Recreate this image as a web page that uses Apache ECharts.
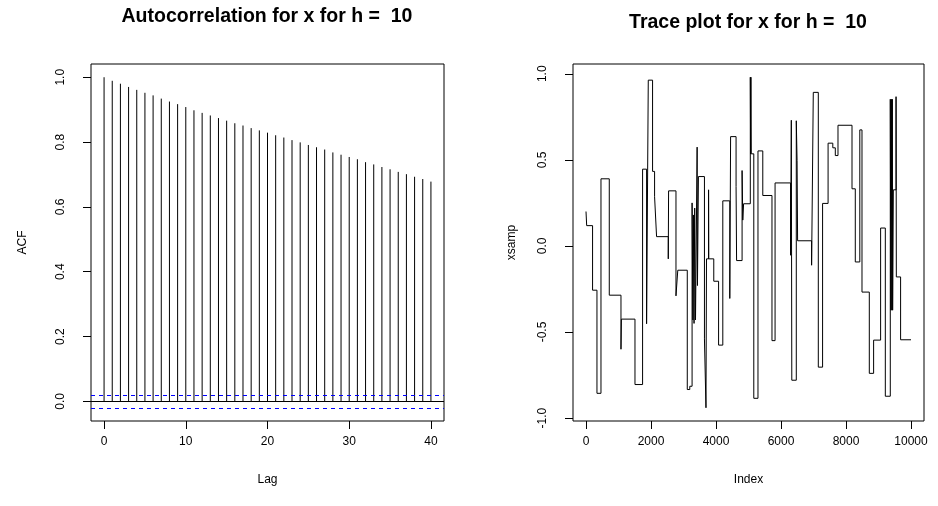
<!DOCTYPE html>
<html>
<head>
<meta charset="utf-8">
<script src="https://cdn.jsdelivr.net/npm/echarts@6/dist/echarts.min.js"></script>
<style>
  html, body { margin: 0; padding: 0; background: #ffffff; }
  #chart { width: 938px; height: 506px; }
</style>
</head>
<body>
<div id="chart"></div>
<script>
// ---- ACF panel data ----
const acfLags = [0,1,2,3,4,5,6,7,8,9,10,11,12,13,14,15,16,17,18,19,20,
                 21,22,23,24,25,26,27,28,29,30,31,32,33,34,35,36,37,38,39,40];
const acfValues = [1.000,0.989,0.980,0.970,0.961,0.952,0.944,0.934,0.925,0.917,0.908,
                   0.898,0.890,0.882,0.874,0.866,0.858,0.851,0.843,0.836,0.829,
                   0.821,0.814,0.806,0.799,0.791,0.784,0.777,0.768,0.761,0.754,
                   0.747,0.738,0.731,0.723,0.716,0.708,0.701,0.693,0.686,0.678];
const ciBound = 0.0196;           // 1.96 / sqrt(10000)
const lagTicks = [0, 10, 20, 30, 40];
const acfTicks = [0, 0.2, 0.4, 0.6, 0.8, 1.0];

// ---- Trace panel data: the chain holds each value from its start index until the next one ----
const traceStart = [1, 22, 203, 338, 462, 717, 1077, 1090, 1508, 1742, 1865, 1917, 2049, 2111, 2172,
  2532, 2542, 2769, 2825, 3117, 3194, 3265, 3290, 3305, 3325, 3345, 3370, 3420, 3430, 3460,
  3645, 3692, 3708, 3772, 3778, 3932, 4080, 4210, 4425, 4450, 4618, 4634, 4803, 4825, 4850,
  5056, 5066, 5075, 5085, 5163, 5292, 5440, 5723, 5818, 6295, 6318, 6333, 6471, 6495, 6511,
  6942, 6994, 7148, 7280, 7449, 7594, 7671, 7754, 8185, 8286, 8425, 8492, 8717, 8850, 9065,
  9210, 9363, 9380, 9395, 9410, 9426, 9435, 9457, 9540, 9549, 9680];
const traceValues = [0.20, 0.118, -0.257, -0.856, 0.39, -0.286, -0.60, -0.425, -0.805, 0.446, -0.452, 0.963, 0.433, 0.286, 0.054,
  -0.075, 0.32, -0.29, -0.141, -0.834, -0.815, 0.25, -0.43, 0.18, -0.45, 0.22, -0.43, 0.574, -0.23, 0.403,
  -0.54, -0.94, -0.075, 0.326, -0.075, -0.205, -0.576, 0.262, -0.305, 0.635, 0.345, -0.085, 0.438, 0.15, 0.245,
  0.98, 0.535, 0.98, 0.535, -0.885, 0.552, 0.293, -0.55, 0.366, -0.054, 0.73, -0.78, 0.727, 0.496, 0.03,
  -0.112, 0.892, -0.704, 0.247, 0.597, 0.57, 0.525, 0.701, 0.332, -0.093, 0.674, -0.268, -0.74, -0.547, 0.104,
  -0.873, 0.852, -0.373, 0.852, -0.373, 0.852, -0.373, 0.326, 0.867, -0.18, -0.545];
const traceLength = 10000;
const indexTicks = [0, 2000, 4000, 6000, 8000, 10000];
const xsampTicks = [-1.0, -0.5, 0.0, 0.5, 1.0];

// R-style axis range: data range widened by 4% on each side
function widen(lo, hi) { const d = (hi - lo) * 0.04; return [lo - d, hi + d]; }

const lagRange = widen(Math.min(...acfLags), Math.max(...acfLags));
const acfRange = widen(Math.min(-ciBound, ...acfValues), Math.max(1, ...acfValues));
const indexRange = widen(1, traceLength);
const xsampRange = widen(Math.min(...traceValues), Math.max(...traceValues));

const tracePoints = traceStart.map((s, i) => [s, traceValues[i]]);
tracePoints.push([traceLength, traceValues[traceValues.length - 1]]);

const FONT = '"Liberation Sans", Arial, Helvetica, sans-serif';
const txt = { color: '#000', fontSize: 12, fontFamily: FONT };

function xAxisCfg(grid, range, ticks, name, fmt) {
  return {
    type: 'value', gridIndex: grid, min: range[0], max: range[1],
    axisLine: { show: false, onZero: false },
    splitLine: { show: false },
    axisTick: { show: true, inside: false, customValues: ticks, length: 8, lineStyle: { color: '#000', width: 1 } },
    axisLabel: Object.assign({ customValues: ticks, margin: 15, formatter: fmt }, txt),
    name: name, nameLocation: 'middle', nameGap: 53,
    nameTextStyle: txt
  };
}
function yAxisCfg(grid, range, ticks, name, gap, fmt) {
  return {
    type: 'value', gridIndex: grid, min: range[0], max: range[1],
    axisLine: { show: false, onZero: false },
    splitLine: { show: false },
    axisTick: { show: true, inside: false, customValues: ticks, length: 8, lineStyle: { color: '#000', width: 1 } },
    axisLabel: Object.assign({ customValues: ticks, margin: 24, rotate: 90, formatter: fmt }, txt),
    name: name, nameLocation: 'middle', nameGap: gap,
    nameTextStyle: txt
  };
}

const chart = echarts.init(document.getElementById('chart'), null, { renderer: 'canvas' });
chart.setOption({
  animation: false,
  backgroundColor: '#ffffff',
  graphic: [
    { type: 'text', x: 267, y: 17, style: { text: 'Autocorrelation for x for h =  10', textAlign: 'center', textVerticalAlign: 'middle',
      fill: '#000', font: 'bold 19.5px ' + FONT } },
    { type: 'text', x: 748, y: 23, style: { text: 'Trace plot for x for h =  10', textAlign: 'center', textVerticalAlign: 'middle',
      fill: '#000', font: 'bold 19.5px ' + FONT } }
  ],
  grid: [
    { left: 91, top: 64, width: 353, height: 357, show: true, borderColor: '#000', borderWidth: 1, backgroundColor: 'transparent' },
    { left: 573, top: 64, width: 351, height: 357, show: true, borderColor: '#000', borderWidth: 1, backgroundColor: 'transparent' }
  ],
  xAxis: [
    xAxisCfg(0, lagRange, lagTicks, 'Lag', v => String(v)),
    xAxisCfg(1, indexRange, indexTicks, 'Index', v => String(v))
  ],
  yAxis: [
    yAxisCfg(0, acfRange, acfTicks, 'ACF', 62, v => v.toFixed(1)),
    yAxisCfg(1, xsampRange, xsampTicks, 'xsamp', 55, v => v.toFixed(1))
  ],
  series: [
    {
      type: 'custom', xAxisIndex: 0, yAxisIndex: 0,
      data: acfLags.map((l, i) => [l, acfValues[i]]),
      renderItem: function (params, api) {
        const p0 = api.coord([api.value(0), 0]);
        const p1 = api.coord([api.value(0), api.value(1)]);
        return { type: 'line', shape: { x1: p0[0], y1: p0[1], x2: p1[0], y2: p1[1] },
                 style: { stroke: '#000', lineWidth: 1 } };
      }
    },
    {
      type: 'line', xAxisIndex: 0, yAxisIndex: 0, data: [],
      markLine: {
        silent: true, symbol: 'none', label: { show: false },
        data: [
          { yAxis: 0, lineStyle: { color: '#000', type: 'solid', width: 1 } },
          { yAxis: ciBound, lineStyle: { color: '#0000ff', type: [4, 4], width: 1 } },
          { yAxis: -ciBound, lineStyle: { color: '#0000ff', type: [4, 4], width: 1 } }
        ]
      }
    },
    {
      type: 'line', xAxisIndex: 1, yAxisIndex: 1,
      data: tracePoints, step: 'end', showSymbol: false, symbol: 'none',
      lineStyle: { color: '#000', width: 1 }
    }
  ]
});
</script>
</body>
</html>
